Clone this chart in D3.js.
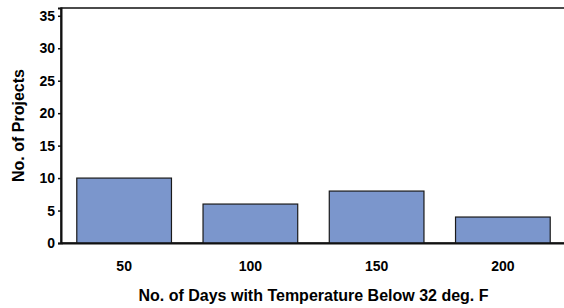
<!DOCTYPE html>
<html><head><meta charset="utf-8">
<script src="https://cdn.jsdelivr.net/npm/d3@7"></script>
<style>body{margin:0;background:#fff}svg{display:block}text{font-family:"Liberation Sans",Arial,sans-serif;font-weight:bold;fill:#000}</style>
</head><body>
<script>
const categories = ["50","100","150","200"];
const values = [10, 6, 8, 4];
const yTicks = [0,5,10,15,20,25,30,35];
const xTitle = "No. of Days with Temperature Below 32 deg. F";
const yTitle = "No. of Projects";

const W = 564, H = 308;
const m = {left:61, top:8, right:-2, bottom:65};
const svg = d3.select("body").append("svg").attr("width",W).attr("height",H);
const x = d3.scaleBand().domain(categories).range([m.left, W - m.right]).paddingInner(0.25).paddingOuter(0.125);
const y = d3.scaleLinear().domain([0, 36.2]).range([H - m.bottom, m.top]);

// frame
svg.append("rect").attr("x", m.left).attr("y", m.top).attr("width", W - m.right - m.left).attr("height", H - m.bottom - m.top)
  .attr("fill","none").attr("stroke","#111").attr("stroke-width",1.5);

svg.selectAll("rect.bar").data(values).join("rect").attr("class","bar")
  .attr("x",(d,i)=>x(categories[i])).attr("width",x.bandwidth())
  .attr("y",d=>y(d)).attr("height",d=>y(0)-y(d))
  .attr("fill","#7b96cc").attr("stroke","#1a1a1a").attr("stroke-width",1.2);

const ya = svg.append("g").attr("transform",`translate(${m.left},0)`)
  .call(d3.axisLeft(y).tickValues(yTicks).tickSize(3).tickPadding(3));
ya.select(".domain").attr("stroke","#111").attr("stroke-width",2);
ya.selectAll(".tick line").attr("stroke","#111").attr("stroke-width",1.5);
ya.selectAll("text").style("font-size","14px").style("font-family","Liberation Sans, Arial").style("font-weight","bold").attr("fill","#000");

const xa = svg.append("g").attr("transform",`translate(0,${y(0)})`)
  .call(d3.axisBottom(x).tickSize(0).tickPadding(18));
xa.select(".domain").attr("stroke","#111").attr("stroke-width",2);
xa.selectAll("text").style("font-size","14px").style("font-family","Liberation Sans, Arial").style("font-weight","bold").attr("fill","#000");

svg.append("text").attr("x",(m.left + W - m.right)/2).attr("y",301).attr("text-anchor","middle")
  .style("font-size","16px").text(xTitle);
svg.append("text").attr("transform",`translate(24,${(m.top + H - m.bottom)/2}) rotate(-90)`).attr("text-anchor","middle")
  .style("font-size","16px").text(yTitle);
</script>
</body></html>
